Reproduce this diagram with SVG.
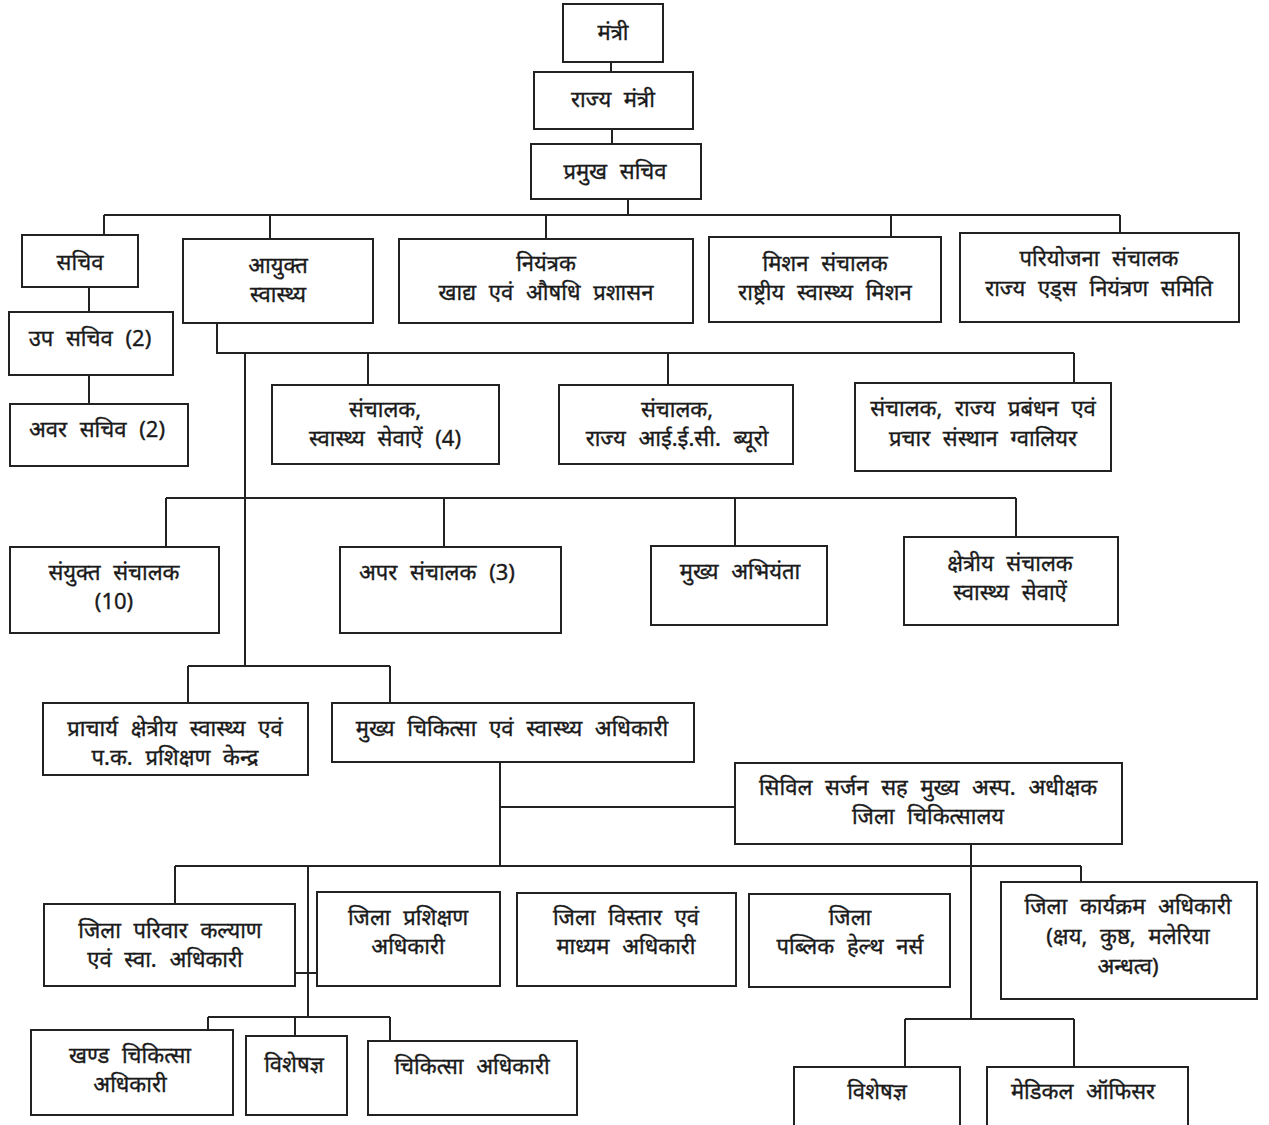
<svg xmlns="http://www.w3.org/2000/svg" width="1269" height="1125" viewBox="0 0 1269 1125">
<style>
.b{fill:#fff;stroke:#222;stroke-width:2}
.c{fill:none;stroke:#222;stroke-width:2}
text{font-family:"Noto Sans","Noto Sans Devanagari",sans-serif;font-size:22px;word-spacing:7px;fill:#1a1a1a;stroke:#1a1a1a;stroke-width:0.35px;text-anchor:middle;dominant-baseline:central}
</style>
<rect width="1269" height="1125" fill="#fff"/>
<g id="connectors">
<path class="c" d="M611 62V72M612 129V144M628 199V215M104 215H1120M104 215V235M270 215V239M546 215V239M891 215V237M1120 215V233"/>
<path class="c" d="M89 287V312M89 375V404"/>
<path class="c" d="M217 323V353H1074M368 353V385M668 353V385M1074 353V383"/>
<path class="c" d="M245 353V666M166 498H1016M166 498V547M444 498V547M735 498V546M1016 498V537"/>
<path class="c" d="M188 666H390M188 666V703M390 666V703"/>
<path class="c" d="M500 762V866M500 807H735M175 866H1081M175 866V904M1081 866V882"/>
<path class="c" d="M308 866V1017M295 973H317M208 1017H390M208 1017V1030M295 1017V1036M390 1017V1041"/>
<path class="c" d="M971 843V1019M905 1019H1074M905 1019V1067M1074 1019V1067"/>
</g>
<g id="n1"><rect class="b" x="563" y="4" width="100" height="58"/><text x="613" y="31">मंत्री</text></g>
<g id="n2"><rect class="b" x="534" y="72" width="159" height="57"/><text x="613" y="98">राज्य मंत्री</text></g>
<g id="n3"><rect class="b" x="531" y="144" width="170" height="55"/><text x="615" y="170">प्रमुख सचिव</text></g>
<g id="n4"><rect class="b" x="22" y="235" width="116" height="52"/><text x="80" y="261">सचिव</text></g>
<g id="n5"><rect class="b" x="183" y="239" width="190" height="84"/><text x="278" y="264">आयुक्त</text><text x="278" y="293">स्वास्थ्य</text></g>
<g id="n6"><rect class="b" x="399" y="239" width="294" height="84"/><text x="546" y="262">नियंत्रक</text><text x="546" y="291">खाद्य एवं औषधि प्रशासन</text></g>
<g id="n7"><rect class="b" x="709" y="237" width="232" height="85"/><text x="825" y="262">मिशन संचालक</text><text x="825" y="291">राष्ट्रीय स्वास्थ्य मिशन</text></g>
<g id="n8"><rect class="b" x="960" y="233" width="279" height="89"/><text x="1099" y="257">परियोजना संचालक</text><text x="1099" y="287">राज्य एड्स नियंत्रण समिति</text></g>
<g id="n9"><rect class="b" x="9" y="312" width="164" height="63"/><text x="90" y="337">उप सचिव (2)</text></g>
<g id="n10"><rect class="b" x="10" y="404" width="178" height="62"/><text x="97" y="428">अवर सचिव (2)</text></g>
<g id="n11"><rect class="b" x="272" y="385" width="227" height="79"/><text x="385" y="408">संचालक,</text><text x="385" y="437">स्वास्थ्य सेवाऐं (4)</text></g>
<g id="n12"><rect class="b" x="559" y="385" width="234" height="79"/><text x="677" y="408">संचालक,</text><text x="677" y="437">राज्य आई.ई.सी. ब्यूरो</text></g>
<g id="n13"><rect class="b" x="855" y="383" width="256" height="88"/><text x="983" y="407">संचालक, राज्य प्रबंधन एवं</text><text x="983" y="437">प्रचार संस्थान ग्वालियर</text></g>
<g id="n14"><rect class="b" x="10" y="547" width="209" height="86"/><text x="114" y="571">संयुक्त संचालक</text><text x="114" y="600">(10)</text></g>
<g id="n15"><rect class="b" x="340" y="547" width="221" height="86"/><text x="437" y="571">अपर संचालक (3)</text></g>
<g id="n16"><rect class="b" x="651" y="546" width="176" height="79"/><text x="740" y="570">मुख्य अभियंता</text></g>
<g id="n17"><rect class="b" x="904" y="537" width="214" height="88"/><text x="1010" y="562">क्षेत्रीय संचालक</text><text x="1010" y="591">स्वास्थ्य सेवाऐं</text></g>
<g id="n18"><rect class="b" x="43" y="703" width="265" height="72"/><text x="175" y="727">प्राचार्य क्षेत्रीय स्वास्थ्य एवं</text><text x="175" y="756">प.क. प्रशिक्षण केन्द्र</text></g>
<g id="n19"><rect class="b" x="332" y="703" width="362" height="59"/><text x="512" y="727">मुख्य चिकित्सा एवं स्वास्थ्य अधिकारी</text></g>
<g id="n20"><rect class="b" x="735" y="763" width="387" height="81"/><text x="928" y="786">सिविल सर्जन सह मुख्य अस्प. अधीक्षक</text><text x="928" y="815">जिला चिकित्सालय</text></g>
<g id="n21"><rect class="b" x="44" y="904" width="251" height="82"/><text x="170" y="929">जिला परिवार कल्याण</text><text x="165" y="958">एवं स्वा. अधिकारी</text></g>
<g id="n22"><rect class="b" x="317" y="892" width="183" height="94"/><text x="408" y="916">जिला प्रशिक्षण</text><text x="408" y="945">अधिकारी</text></g>
<g id="n23"><rect class="b" x="517" y="893" width="219" height="93"/><text x="626" y="916">जिला विस्तार एवं</text><text x="626" y="945">माध्यम अधिकारी</text></g>
<g id="n24"><rect class="b" x="749" y="894" width="201" height="93"/><text x="850" y="916">जिला</text><text x="850" y="945">पब्लिक हेल्थ नर्स</text></g>
<g id="n25"><rect class="b" x="1001" y="882" width="256" height="117"/><text x="1128" y="905">जिला कार्यक्रम अधिकारी</text><text x="1128" y="935">(क्षय, कुष्ठ, मलेरिया</text><text x="1128" y="965">अन्धत्व)</text></g>
<g id="n26"><rect class="b" x="31" y="1030" width="202" height="85"/><text x="130" y="1054">खण्ड चिकित्सा</text><text x="130" y="1083">अधिकारी</text></g>
<g id="n27"><rect class="b" x="246" y="1036" width="101" height="79"/><text x="294" y="1063">विशेषज्ञ</text></g>
<g id="n28"><rect class="b" x="368" y="1041" width="209" height="74"/><text x="472" y="1065">चिकित्सा अधिकारी</text></g>
<g id="n29"><rect class="b" x="794" y="1067" width="166" height="70"/><text x="877" y="1090">विशेषज्ञ</text></g>
<g id="n30"><rect class="b" x="987" y="1067" width="201" height="70"/><text x="1083" y="1090">मेडिकल ऑफिसर</text></g>
</svg>
